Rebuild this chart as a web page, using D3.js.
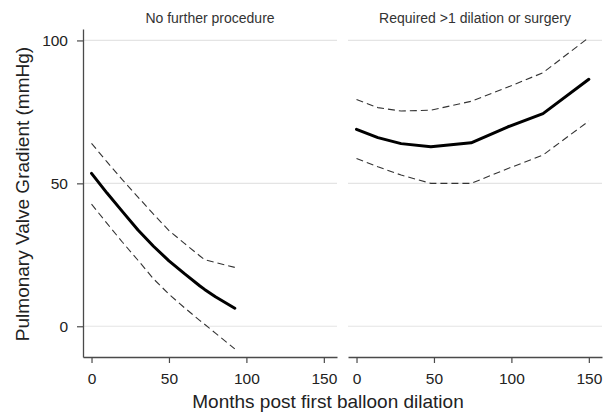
<!DOCTYPE html>
<html>
<head>
<meta charset="utf-8">
<script src="https://cdn.jsdelivr.net/npm/d3@7"></script>
<style>
  html, body { margin: 0; padding: 0; background: #fff; }
  svg { display: block; font-family: "Liberation Sans", Arial, Helvetica, sans-serif; }
</style>
</head>
<body>
<svg id="chart" width="603" height="418"></svg>
<script>
// ---- data ----
const panelTitles = ["No further procedure", "Required >1 dilation or surgery"];

const monthsA = [0, 10, 20, 30, 40, 50, 60, 70, 73, 80, 92.5];
const fitA    = [53.5, 46.6, 40.1, 33.7, 28.0, 22.9, 18.4, 14.1, 12.9, 10.3, 6.3];
const upperA  = [64.0, 57.5, 51.2, 45.2, 39.2, 33.5, 29.0, 24.6, 23.3, 22.3, 20.6];
const lowerA  = [42.7, 36.0, 29.4, 23.1, 16.6, 11.2, 6.5, 2.0, 0.7, -2.4, -7.9];

const monthsB = [0, 13.8, 28.8, 48, 74, 97.8, 120.4, 150];
const fitB    = [68.9, 66.0, 63.9, 62.8, 64.2, 69.8, 74.4, 86.4];
const upperB  = [79.3, 76.5, 75.3, 75.6, 78.7, 83.7, 88.7, 101.0];
const lowerB  = [58.7, 55.8, 52.9, 50.0, 50.0, 55.2, 59.9, 71.8];

const xTicks = [0, 50, 100, 150];
const yTicks = [0, 50, 100];
const xTitle = "Months post first balloon dilation";
const yTitle = "Pulmonary Valve Gradient (mmHg)";

// ---- layout ----
const svg = d3.select("#chart");
const plotTop = 29, plotBottom = 357;
const panels = [
  { x0: 83, x1: 337, months: monthsA, fit: fitA, upper: upperA, lower: lowerA, title: panelTitles[0], yAxis: true },
  { x0: 348, x1: 602, months: monthsB, fit: fitB, upper: upperB, lower: lowerB, title: panelTitles[1], yAxis: false }
];
const y = d3.scaleLinear().domain([-10.75, 104]).range([plotBottom, plotTop]);

const axisColor = "#4a4a4a";
const textColor = "#222";

panels.forEach(p => {
  const x = d3.scaleLinear().domain([-5.5, 158.5]).range([p.x0, p.x1]);
  const g = svg.append("g");

  // gridlines
  g.selectAll("line.grid").data(yTicks).enter().append("line")
    .attr("class", "grid")
    .attr("x1", p.x0).attr("x2", p.x1)
    .attr("y1", d => y(d)).attr("y2", d => y(d))
    .attr("stroke", "#e4e4e4").attr("stroke-width", 1.2);

  // x axis
  const xa = g.append("g").attr("transform", `translate(0,${plotBottom})`)
    .call(d3.axisBottom(x).tickValues(xTicks).tickSize(6).tickSizeOuter(0).tickPadding(10).tickFormat(d3.format("d")));
  xa.select(".domain").attr("stroke", axisColor).attr("stroke-width", 1.3);
  xa.selectAll(".tick line").attr("stroke", axisColor).attr("stroke-width", 1.2);
  xa.selectAll(".tick text").attr("fill", textColor).style("font-size", "15.5px").style("font-family", "Liberation Sans, Arial, sans-serif");

  // y axis
  if (p.yAxis) {
    const ya = g.append("g").attr("transform", `translate(${p.x0},0)`)
      .call(d3.axisLeft(y).tickValues(yTicks).tickSize(6).tickSizeOuter(0).tickPadding(9).tickFormat(d3.format("d")));
    ya.select(".domain").attr("stroke", axisColor).attr("stroke-width", 1.3);
    ya.selectAll(".tick line").attr("stroke", axisColor).attr("stroke-width", 1.2);
    ya.selectAll(".tick text").attr("fill", textColor).style("font-size", "15.5px").style("font-family", "Liberation Sans, Arial, sans-serif");
  }

  // panel title
  g.append("text")
    .attr("x", (p.x0 + p.x1) / 2).attr("y", 22.5)
    .attr("text-anchor", "middle")
    .attr("fill", "#333")
    .style("font-size", "14px")
    .text(p.title);

  const line = vals => d3.line()
    .x((d, i) => x(p.months[i]))
    .y(d => y(d))(vals);

  // confidence bounds
  [p.upper, p.lower].forEach(vals => {
    g.append("path")
      .attr("d", line(vals))
      .attr("fill", "none")
      .attr("stroke", "#333")
      .attr("stroke-width", 1.1)
      .attr("stroke-dasharray", "7,4");
  });

  // fitted line
  g.append("path")
    .attr("d", line(p.fit))
    .attr("fill", "none")
    .attr("stroke", "#000")
    .attr("stroke-width", 3)
    .attr("stroke-linejoin", "round")
    .attr("stroke-linecap", "round");
});

// axis titles
svg.append("text")
  .attr("x", 328).attr("y", 407.5)
  .attr("text-anchor", "middle")
  .attr("fill", textColor)
  .style("font-size", "19px")
  .text(xTitle);

svg.append("text")
  .attr("transform", "translate(28.5,194) rotate(-90)")
  .attr("text-anchor", "middle")
  .attr("fill", textColor)
  .style("font-size", "19px")
  .text(yTitle);
</script>
</body>
</html>
